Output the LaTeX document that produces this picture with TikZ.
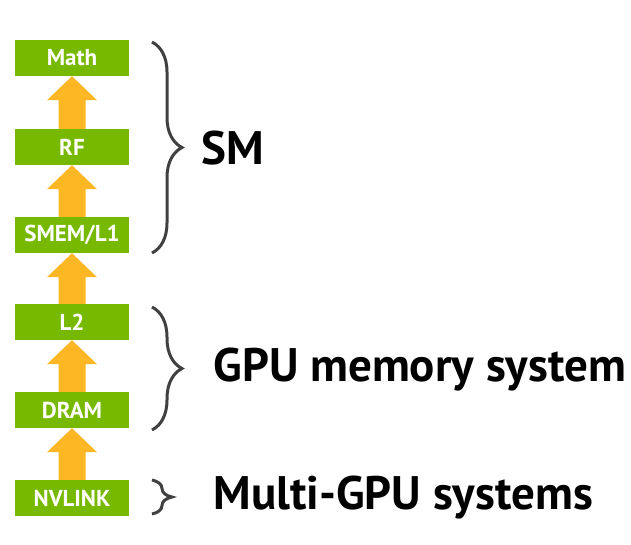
\documentclass[tikz,border=0pt]{standalone}
\usepackage{fontspec}
\setmainfont{PT Sans}
\usetikzlibrary{decorations.pathreplacing,calc}
\definecolor{nvgreen}{RGB}{118,185,0}
\definecolor{nvorange}{RGB}{253,182,36}
\definecolor{bracegray}{RGB}{64,64,64}
\tikzset{
  level/.style={fill=nvgreen,text=white,font=\fontsize{23}{25}\selectfont\bfseries,
    minimum width=114pt,minimum height=36pt,inner sep=0pt},
  grp/.style={decorate,decoration={brace,amplitude=30pt},draw=bracegray,line width=3pt},
  tag/.style={anchor=west,font=\fontsize{47}{52}\selectfont\bfseries}
}
\begin{document}
\begin{tikzpicture}[x=1pt,y=-1pt]
  \useasboundingbox (0,0) rectangle (631,544);
  \begin{scope}
    \node[level] (math) at (72,58) {Math};
    \node[level] (rf) at (72,147) {RF};
    \node[level] (smem) at (72,235) {SMEM/L1};
    \node[level] (l2) at (72,322) {L2};
    \node[level] (dram) at (72,410) {DRAM};
    \node[level] (nvlink) at (72,498) {NVLINK};
  \end{scope}
  % orange arrows between levels
  \foreach \lo/\hi in {rf/math,smem/rf,l2/smem,dram/l2,nvlink/dram}
    \fill[nvorange] ($(\lo.north)+(-13.5,0)$) -- ($(\hi.south)+(-13.5,24)$)
      -- ($(\hi.south)+(-25,24)$) -- (\hi.south) -- ($(\hi.south)+(25,24)$)
      -- ($(\hi.south)+(13.5,24)$) -- ($(\lo.north)+(13.5,0)$) -- cycle;
  \coordinate (smtop) at (152,42);
  \coordinate (smbot) at (152,253);
  \coordinate (memtop) at (152,307);
  \coordinate (membot) at (152,430);
  \coordinate (mgtop) at (152,480);
  \coordinate (mgbot) at (152,514);
  \draw[grp] (smtop) -- (smbot);
  \draw[grp] (memtop) -- (membot);
  \draw[grp,decoration={amplitude=20pt}] (mgtop) -- (mgbot);
  \node[tag] (sm) at (198,148) {SM};
  \node[tag] (mem) at (210,370) {GPU memory system};
  \node[tag] (multi) at (210,498) {Multi-GPU systems};
\end{tikzpicture}
\end{document}
